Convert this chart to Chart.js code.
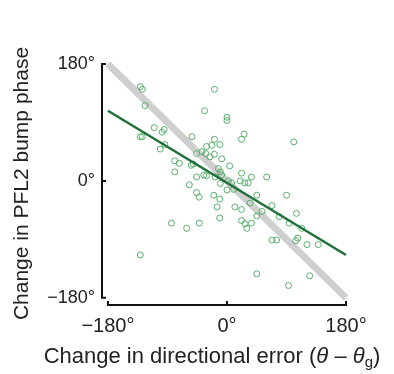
<!DOCTYPE html>
<html>
<head>
<meta charset="utf-8">
<script src="https://cdn.jsdelivr.net/npm/chart.js@4.4.0/dist/chart.umd.min.js"></script>
<style>
  html, body { margin: 0; padding: 0; background: #fff; }
  #wrap { width: 394px; height: 374px; }
</style>
</head>
<body>
<div id="wrap"><canvas id="c"></canvas></div>
<script>
// change in directional error (deg) vs change in PFL2 bump phase (deg)
const errorChange = [
  -131, -128, -19, -124, -34, 0, 0, -110, -95, -98,
  -131, -128, -53, -94, -101, -31, -19, -11, 26, 22,
  101, -46, -38, -32, -19, -26, -8, -79, -72, -54,
  -51, 4, -13, -10, -79, 22, -46, -31, -35, -18,
  -8, 37, 60, 2, 7, 20, 27, 32, -10, 0,
  10, -57, -46, -42, -20, -11, -15, 12, 22, 35,
  45, 90, 68, 53, 45, 22, 27, 30, 37, -11,
  79, 105, 94, 113, 68, 75, 107, 104, 121, 138,
  45, 125, 93, -84, -61, -42, -131, -23
];
const phaseChange = [
  145, 141, 141, 116, 108, 98, 93, 82, 79, 75,
  68, 68, 68, 56, 49, 53, 64, 56, 72, 64,
  60, 42, 45, 42, 41, 37, 34, 31, 27, 24,
  26, 23, 19, 14, 14, 12, 6, 8, 9, 6,
  9, 6, 6, 0, -3, 0, -3, -3, -4, -14,
  -13, -6, -18, -25, -22, -28, -40, -40, -44, -34,
  -22, -22, -38, -47, -54, -61, -66, -73, -65, -57,
  -55, -50, -65, -73, -91, -91, -88, -92, -98, -98,
  -143, -146, -161, -65, -73, -65, -114, 55
];
const fitX = [-180, 180];
const fitY = [108, -114];
const unityX = [-180, 180];
const unityY = [180, -180];
const tickValues = [-180, 0, 180];

const TEXT = '#222';
const FONT = "'Liberation Sans', Arial, sans-serif";
const POINT_GREEN = 'rgba(80, 172, 100, 0.95)';
const FIT_GREEN = '#20703a';
const UNITY_GRAY = '#cfcfcf';

const pts = (xs, ys) => xs.map((x, i) => ({ x, y: ys[i] }));
const degLabel = (v) => (v < 0 ? '\u2212' + Math.abs(v) : v) + '\u00b0';

// range-frame axes, ticks pointing inward
const rangeFrame = {
  id: 'rangeFrame',
  beforeDatasetsDraw(chart) {
    const { ctx, scales: { x, y }, chartArea } = chart;
    const ax = chartArea.left;
    const ay = chartArea.bottom;
    ctx.save();
    ctx.strokeStyle = '#111';
    ctx.lineWidth = 2;
    ctx.beginPath();
    ctx.moveTo(ax, y.getPixelForValue(180));
    ctx.lineTo(ax, y.getPixelForValue(-180));
    ctx.moveTo(x.getPixelForValue(-180), ay);
    ctx.lineTo(x.getPixelForValue(180), ay);
    tickValues.forEach((v) => {
      const py = y.getPixelForValue(v);
      ctx.moveTo(ax - 1, py);
      ctx.lineTo(ax + 4, py);
      const px = x.getPixelForValue(v);
      ctx.moveTo(px, ay + 1);
      ctx.lineTo(px, ay - 4);
    });
    ctx.stroke();
    ctx.restore();
  },
  afterDraw(chart) {
    // x title with subscript g
    const { ctx } = chart;
    const parts = [
      { t: 'Change in directional error (', f: `22px ${FONT}`, dy: 0 },
      { t: '\u03b8', f: `italic 22px ${FONT}`, dy: 0 },
      { t: ' \u2013 ', f: `22px ${FONT}`, dy: 0 },
      { t: '\u03b8', f: `italic 22px ${FONT}`, dy: 0 },
      { t: 'g', f: `15px ${FONT}`, dy: 6 },
      { t: ')', f: `22px ${FONT}`, dy: 0 },
    ];
    ctx.save();
    ctx.fillStyle = TEXT;
    ctx.textBaseline = 'middle';
    ctx.textAlign = 'left';
    let total = 0;
    parts.forEach((p) => { ctx.font = p.f; total += ctx.measureText(p.t).width; });
    let cx = 212 - total / 2;
    parts.forEach((p) => {
      ctx.font = p.f;
      ctx.fillText(p.t, cx, 357 + p.dy);
      cx += ctx.measureText(p.t).width;
    });
    ctx.restore();
  },
};

new Chart(document.getElementById('c'), {
  type: 'scatter',
  data: {
    datasets: [
      {
        type: 'line',
        data: pts(fitX, fitY),
        borderColor: FIT_GREEN,
        borderWidth: 2.5,
        pointRadius: 0,
        order: 0,
      },
      {
        data: pts(errorChange, phaseChange),
        pointRadius: 3,
        pointBorderWidth: 1,
        pointBorderColor: POINT_GREEN,
        pointBackgroundColor: 'rgba(0,0,0,0)',
        order: 1,
      },
      {
        type: 'line',
        data: pts(unityX, unityY),
        borderColor: UNITY_GRAY,
        borderWidth: 7,
        borderCapStyle: 'butt',
        pointRadius: 0,
        order: 2,
      },
    ],
  },
  options: {
    responsive: true,
    maintainAspectRatio: false,
    animation: false,
    layout: { padding: { top: 62, right: 46, left: 0, bottom: 0 } },
    plugins: { legend: { display: false }, tooltip: { enabled: false } },
    scales: {
      x: {
        type: 'linear',
        min: -189,
        max: 183,
        grid: { display: false, drawTicks: false },
        border: { display: false },
        afterBuildTicks: (s) => { s.ticks = tickValues.map((v) => ({ value: v })); },
        afterFit: (s) => { s.height = 69; },
        ticks: {
          color: TEXT,
          padding: 9,
          maxRotation: 0,
          autoSkip: false,
          font: { family: FONT, size: 20 },
          callback: degLabel,
        },
      },
      y: {
        type: 'linear',
        min: -191,
        max: 183,
        grid: { display: false, drawTicks: false },
        border: { display: false },
        afterBuildTicks: (s) => { s.ticks = tickValues.map((v) => ({ value: v })); },
        afterFit: (s) => { s.width = 102; },
        ticks: {
          color: TEXT,
          padding: 7,
          autoSkip: false,
          font: { family: FONT, size: 18 },
          callback: degLabel,
        },
        title: {
          display: true,
          text: 'Change in PFL2 bump phase',
          color: TEXT,
          padding: { top: 10, bottom: 0 },
          font: { family: FONT, size: 21 },
        },
      },
    },
  },
  plugins: [rangeFrame],
});
</script>
</body>
</html>
